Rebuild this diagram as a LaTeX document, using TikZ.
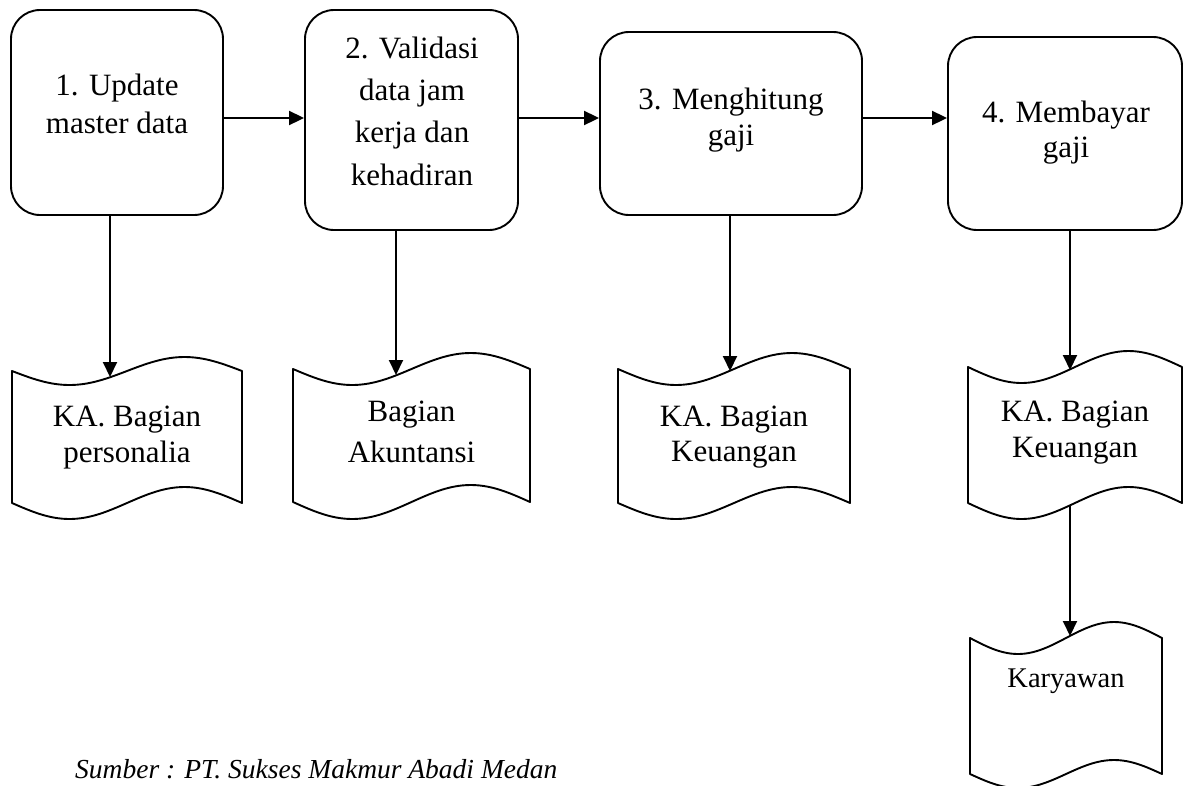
\documentclass[tikz,border=0pt]{standalone}
\usepackage{fontspec}
\setmainfont{Liberation Serif}
\usetikzlibrary{arrows.meta}

% punched-tape document shape: x1 x2 ytop amp-top ybottom amp-bottom
\newcommand\tapeshape[6]{%
  \pgfmathsetmacro\ta{#1+(#2-#1)*0.25}%
  \pgfmathsetmacro\tb{#1+(#2-#1)*0.5}%
  \pgfmathsetmacro\tc{#1+(#2-#1)*0.75}%
  \pgfmathsetmacro\tu{#3+#4}%
  \pgfmathsetmacro\tv{#3-#4}%
  \pgfmathsetmacro\bu{#5+#6}%
  \pgfmathsetmacro\bv{#5-#6}%
  \draw[tape] (#1,#3) sin (\ta,\tu) cos (\tb,#3) sin (\tc,\tv) cos (#2,#3)
    -- (#2,#5) sin (\tc,\bv) cos (\tb,#5) sin (\ta,\bu) cos (#1,#5) -- cycle;
}

\begin{document}
\begin{tikzpicture}[x=1pt,y=-1pt,
  procbox/.style={draw, line width=1.9pt, rounded corners=29pt, inner sep=0pt},
  tape/.style={draw, line width=1.9pt, line join=round},
  lbl/.style={align=center, inner sep=0pt, font=\fontsize{31}{38}\selectfont},
  flow/.style={line width=2pt, -{Triangle[length=15pt,width=14pt]}},
  src/.style={inner sep=0pt, font=\itshape\fontsize{27.5}{33}\selectfont}]
\useasboundingbox (0,0) rectangle (1184,785);

% process steps
\node[procbox, minimum width=212, minimum height=205] (b1) at (117,112.5) {};
\node[procbox, minimum width=213, minimum height=220] (b2) at (411.5,120) {};
\node[procbox, minimum width=262, minimum height=183] (b3) at (731,123.5) {};
\node[procbox, minimum width=234, minimum height=193] (b4) at (1065,133.5) {};

\node[lbl] (b1t) at (117,104) {1. Update\\master data};
\node[lbl, font=\fontsize{31}{42.3}\selectfont] (b2t) at (412,111) {2. Validasi\\data jam\\kerja dan\\kehadiran};
\node[lbl, font=\fontsize{31}{36}\selectfont] (b3t) at (731,120) {3. Menghitung\\gaji};
\node[lbl, font=\fontsize{31}{35}\selectfont] (b4t) at (1066,132.5) {4. Membayar\\gaji};

% documents
\tapeshape{12}{242}{371}{14}{503}{16}
\tapeshape{293}{530}{369}{16}{502}{17}
\tapeshape{618}{850}{369}{16}{503}{16}
\tapeshape{968}{1182}{367}{16}{503}{16}
\tapeshape{970}{1162}{638}{16}{774}{14}

\node[lbl, font=\fontsize{31}{36}\selectfont] (d1) at (127,438) {KA. Bagian\\personalia};
\node[lbl, font=\fontsize{31}{41}\selectfont] (d2) at (411.5,432) {Bagian\\Akuntansi};
\node[lbl, font=\fontsize{31}{35}\selectfont] (d3) at (734,437.5) {KA. Bagian\\Keuangan};
\node[lbl, font=\fontsize{31}{36}\selectfont] (d4) at (1075,433) {KA. Bagian\\Keuangan};
\node[lbl, font=\fontsize{28.5}{34}\selectfont] (d5) at (1066,681) {Karyawan};

% connector end points on the wavy document edges
\coordinate (row) at (0,118);
\coordinate (d1in) at (110,377);
\coordinate (d2in) at (396,375);
\coordinate (d3in) at (730,371);
\coordinate (d4in) at (1070,370);
\coordinate (d4out) at (1070,505);
\coordinate (d5in) at (1070,636);

% flow between steps
\draw[flow] (b1.east |- row) -- (b2.west |- row);
\draw[flow] (b2.east |- row) -- (b3.west |- row);
\draw[flow] (b3.east |- row) -- (b4.west |- row);

% steps to documents
\draw[flow] (b1.south -| d1in) -- (d1in);
\draw[flow] (b2.south -| d2in) -- (d2in);
\draw[flow] (b3.south -| d3in) -- (d3in);
\draw[flow] (b4.south -| d4in) -- (d4in);
\draw[flow] (d4out) -- (d5in);

% source note
\node[src, anchor=base west] (src) at (75,778) {Sumber : PT. Sukses Makmur Abadi Medan};
\end{tikzpicture}
\end{document}
